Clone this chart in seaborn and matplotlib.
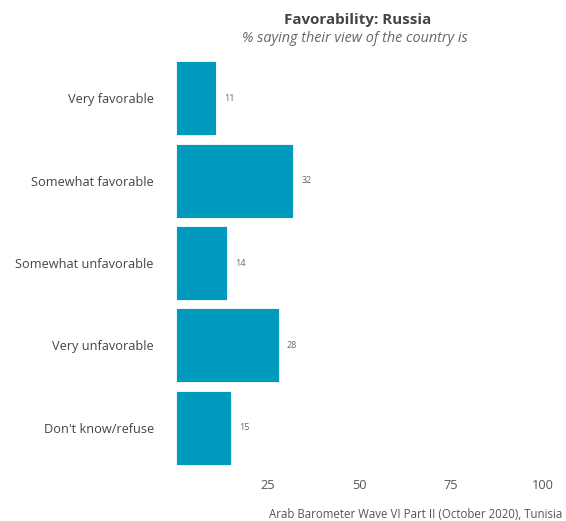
import numpy as np
import pandas as pd
import seaborn as sns
import matplotlib.pyplot as plt

# data
categories = ["Very favorable", "Somewhat favorable", "Somewhat unfavorable",
              "Very unfavorable", "Don't know/refuse"]
values = [11, 32, 14, 28, 15]
xticks = [25, 50, 75, 100]

dat = pd.DataFrame({"answer": categories, "pct": values})

sns.set_style("white")
plt.rcParams['font.family'] = ['Open Sans', 'DejaVu Sans']

fig = plt.figure(figsize=(5.66, 5.21), dpi=100)
ax = fig.add_axes([0.311, 0.0998, 0.648, 0.7908])

sns.barplot(data=dat, x="pct", y="answer", color="#009ABF", saturation=1,
            width=0.9, edgecolor="white", linewidth=0.6, ax=ax)

for ii, v in enumerate(values):
    ax.text(v + 2.2, ii, str(v), va="center", ha="left", fontsize=6.5, color="#666666")

ax.set_xlim(0, 100)
ax.set_ylim(4.5, -0.5)
ax.set_xticks(xticks)
ax.set_xticklabels([str(t) for t in xticks], fontsize=9.2, color="#555555")
ax.tick_params(axis="y", labelsize=9.2, labelcolor="#444444", length=0, pad=16)
ax.tick_params(axis="x", length=0, pad=7)
ax.set_xlabel("")
ax.set_ylabel("")
sns.despine(ax=ax, left=True, bottom=True)

# titles
fig.text(0.632, 0.962, "Favorability: Russia", ha="center", va="center",
         fontsize=10.9, fontweight="bold", color="#444444")
fig.text(0.627, 0.927, "% saying their view of the country is", ha="center", va="center",
         fontsize=10.4, style="italic", color="#666666")
fig.text(0.993, 0.012, "Arab Barometer Wave VI Part II (October 2020), Tunisia",
         ha="right", va="center", fontsize=8.3, color="#555555")

plt.savefig("out.png", dpi=100)
